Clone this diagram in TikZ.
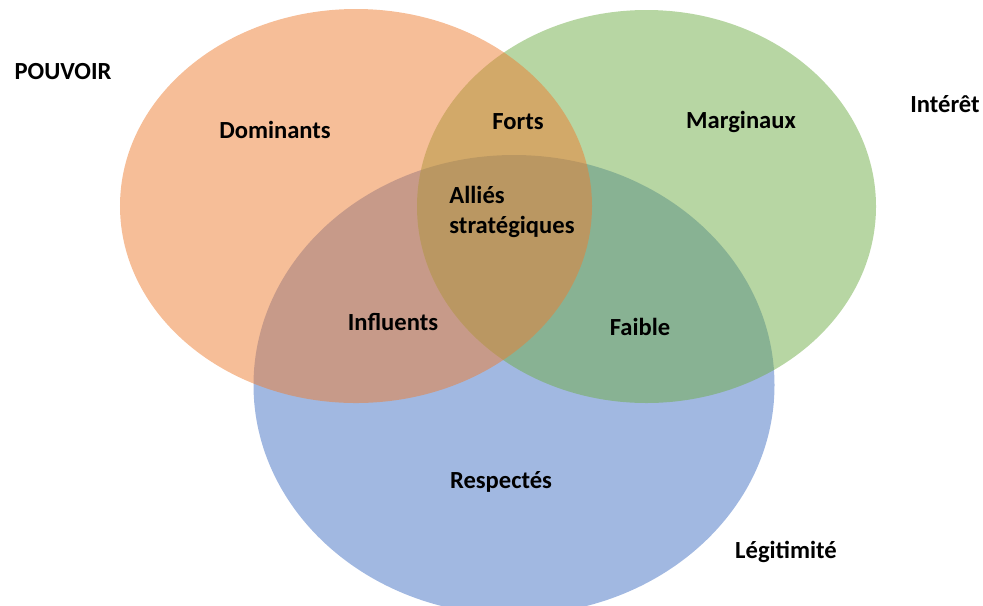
\documentclass[tikz,border=0pt]{standalone}
\usepackage{fontspec}
\setmainfont{Carlito}
\definecolor{setorange}{RGB}{237,125,49}
\definecolor{setgreen}{RGB}{112,173,71}
\definecolor{setblue}{RGB}{68,114,196}

\begin{document}
\begin{tikzpicture}[x=0.2mm,y=-0.2mm,
    tag/.style={font=\fontsize{14}{16.6}\selectfont\bfseries,inner sep=0pt},
    setfill/.style={fill=#1,fill opacity=0.5}]

    % Frame
    \useasboundingbox (0,0) rectangle (983,605);

    % Sets (blue below, orange on top)
    \fill[setfill=setblue] (514,385) ellipse [x radius=52.1mm, y radius=46mm];
    \fill[setfill=setgreen] (646.5,206.5) ellipse [x radius=45.9mm, y radius=39.3mm];
    \fill[setfill=setorange] (356,206) ellipse [x radius=47.2mm, y radius=39.4mm];

    % Set names
    \node[tag] at (63,72) (Pouvoir) {POUVOIR};
    \node[tag] at (945,104) (Interet) {Intérêt};
    \node[tag] at (786,552) (Legitimite) {Légitimité};

    % Regions
    \node[tag] at (275,130) (Dominants) {Dominants};
    \node[tag] at (518,122) (Forts) {Forts};
    \node[tag] at (741,122) (Marginaux) {Marginaux};
    \node[tag,align=left] at (512,212) (Allies) {Alliés\\stratégiques};
    \node[tag] at (393,322) (Influents) {Influents};
    \node[tag] at (640,327) (Faible) {Faible};
    \node[tag] at (501,482) (Respectes) {Respectés};

\end{tikzpicture}
\end{document}
